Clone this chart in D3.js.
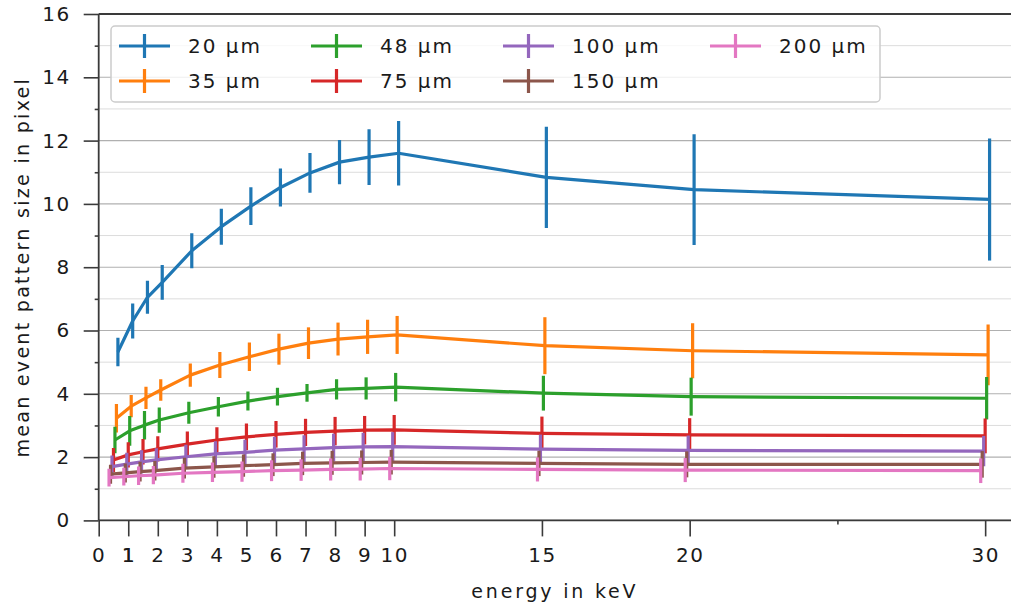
<!DOCTYPE html>
<html>
<head>
<meta charset="utf-8">
<script src="https://cdn.jsdelivr.net/npm/d3@7"></script>
<style>
  body { margin: 0; background: #fff; }
  text { font-family: "DejaVu Sans", sans-serif; fill: #1a1a1a; }
</style>
</head>
<body>
<svg id="chart" width="1011" height="607"></svg>
<script>
// Photon energies (keV) at which the event pattern size was measured
const energies = [0.5, 1, 1.5, 2, 3, 4, 5, 6, 7, 8, 9, 10, 15, 20, 30];

// Sensor thicknesses, one series each
const thicknesses = ["20 μm", "35 μm", "48 μm", "75 μm", "100 μm", "150 μm", "200 μm"];
const colors = ["#1f77b4", "#ff7f0e", "#2ca02c", "#d62728", "#9467bd", "#8c564b", "#e377c2"];

// Mean event pattern size (pixel) and its spread, per thickness
const size20  = [5.32, 6.30, 7.05, 7.52, 8.52, 9.28, 9.93, 10.52, 10.98, 11.32, 11.48, 11.60, 10.84, 10.45, 10.14];
const err20   = [0.45, 0.55, 0.52, 0.55, 0.55, 0.57, 0.60, 0.60, 0.63, 0.70, 0.88, 1.02, 1.60, 1.75, 1.93];
const size35  = [3.23, 3.61, 3.87, 4.12, 4.59, 4.91, 5.17, 5.41, 5.60, 5.73, 5.80, 5.86, 5.52, 5.36, 5.23];
const err35   = [0.45, 0.35, 0.35, 0.34, 0.37, 0.41, 0.45, 0.49, 0.50, 0.52, 0.54, 0.60, 0.90, 0.87, 0.96];
const size48  = [2.54, 2.83, 3.01, 3.17, 3.40, 3.59, 3.77, 3.91, 4.03, 4.14, 4.17, 4.21, 4.02, 3.91, 3.86];
const err48   = [0.42, 0.47, 0.45, 0.40, 0.35, 0.31, 0.30, 0.28, 0.28, 0.32, 0.35, 0.45, 0.55, 0.60, 0.67];
const size75  = [1.91, 2.07, 2.17, 2.26, 2.41, 2.54, 2.64, 2.72, 2.78, 2.82, 2.85, 2.86, 2.75, 2.70, 2.67];
const err75   = [0.38, 0.40, 0.40, 0.40, 0.40, 0.40, 0.42, 0.42, 0.43, 0.45, 0.45, 0.47, 0.53, 0.53, 0.55];
const size100 = [1.70, 1.78, 1.85, 1.91, 2.01, 2.10, 2.15, 2.22, 2.26, 2.30, 2.32, 2.33, 2.25, 2.21, 2.19];
const err100  = [0.35, 0.36, 0.37, 0.37, 0.38, 0.40, 0.40, 0.42, 0.43, 0.44, 0.45, 0.46, 0.46, 0.47, 0.48];
const size150 = [1.46, 1.50, 1.54, 1.57, 1.65, 1.69, 1.73, 1.76, 1.80, 1.82, 1.83, 1.84, 1.80, 1.77, 1.77];
const err150  = [0.30, 0.30, 0.31, 0.31, 0.33, 0.34, 0.35, 0.36, 0.37, 0.38, 0.38, 0.39, 0.40, 0.41, 0.42];
const size200 = [1.35, 1.38, 1.41, 1.43, 1.49, 1.52, 1.54, 1.57, 1.59, 1.61, 1.62, 1.64, 1.61, 1.59, 1.57];
const err200  = [0.28, 0.28, 0.29, 0.29, 0.30, 0.31, 0.32, 0.33, 0.34, 0.35, 0.36, 0.37, 0.38, 0.38, 0.39];

const sizes = [size20, size35, size48, size75, size100, size150, size200];
const errs  = [err20, err35, err48, err75, err100, err150, err200];

// Axis ticks
const xMajorTicks = [0, 1, 2, 3, 4, 5, 6, 7, 8, 9, 10, 15, 20, 30];
const xMinorTicks = [25];
const yMajorTicks = [0, 2, 4, 6, 8, 10, 12, 14, 16];
const yMinorTicks = [1, 3, 5, 7, 9, 11, 13, 15];

const xLabel = "energy in keV";
const yLabel = "mean event pattern size in pixel";

// ---- layout ----
const svg = d3.select("#chart");
const plotLeft = 98.7, plotRight = 1014.7, plotTop = 14, plotBottom = 520.4;
const x = d3.scaleLinear().domain([0, 31]).range([plotLeft, plotRight]);
const y = d3.scaleLinear().domain([0, 16]).range([plotBottom, plotTop]);
const dodge = 0.05; // small horizontal shift so error bars of the series don't overlap

const axisColor = "#3a3a3a";
const tickFont = "20px";

// clip for plotting area
svg.append("defs").append("clipPath").attr("id", "plotclip")
  .append("rect").attr("x", plotLeft).attr("y", plotTop)
  .attr("width", plotRight - plotLeft).attr("height", plotBottom - plotTop);

// horizontal grid
const grid = svg.append("g");
grid.selectAll("line.minor").data(yMinorTicks).join("line")
  .attr("class", "minor")
  .attr("x1", plotLeft).attr("x2", plotRight)
  .attr("y1", d => y(d)).attr("y2", d => y(d))
  .attr("stroke", "#dcdcdc").attr("stroke-width", 1);
grid.selectAll("line.major").data(yMajorTicks).join("line")
  .attr("class", "major")
  .attr("x1", plotLeft).attr("x2", plotRight)
  .attr("y1", d => y(d)).attr("y2", d => y(d))
  .attr("stroke", "#b0b0b0").attr("stroke-width", 1.1);

// series: line plus vertical error bars
const plot = svg.append("g").attr("clip-path", "url(#plotclip)");
const line = d3.line().x(d => x(d.e)).y(d => y(d.v));

thicknesses.forEach((name, i) => {
  const pts = energies.map((e, j) => ({ e: e + (3 - i) * dodge, v: sizes[i][j], s: errs[i][j] }));
  const g = plot.append("g");
  g.append("path").datum(pts)
    .attr("d", line)
    .attr("fill", "none")
    .attr("stroke", colors[i])
    .attr("stroke-width", 3.2)
    .attr("stroke-linejoin", "round");
  g.selectAll("line").data(pts).join("line")
    .attr("x1", d => x(d.e)).attr("x2", d => x(d.e))
    .attr("y1", d => y(d.v - d.s)).attr("y2", d => y(d.v + d.s))
    .attr("stroke", colors[i])
    .attr("stroke-width", 3.2);
});

// axes
const yAxis = svg.append("g").attr("transform", `translate(${plotLeft},0)`)
  .call(d3.axisLeft(y).tickValues(yMajorTicks).tickSize(15).tickPadding(13).tickFormat(d3.format("d")));
const yAxisMinor = svg.append("g").attr("transform", `translate(${plotLeft},0)`)
  .call(d3.axisLeft(y).tickValues(yMinorTicks).tickSize(4).tickFormat(""));
const xAxis = svg.append("g").attr("transform", `translate(0,${plotBottom})`)
  .call(d3.axisBottom(x).tickValues(xMajorTicks).tickSize(16).tickPadding(11).tickFormat(d3.format("d")));
const xAxisMinor = svg.append("g").attr("transform", `translate(0,${plotBottom})`)
  .call(d3.axisBottom(x).tickValues(xMinorTicks).tickSize(4).tickFormat(""));

[yAxis, yAxisMinor, xAxis, xAxisMinor].forEach(a => {
  a.select(".domain").remove();
  a.selectAll(".tick line").attr("stroke", axisColor).attr("stroke-width", 1.6);
  a.selectAll(".tick text").attr("fill", "#1a1a1a").style("font-size", tickFont)
    .style("letter-spacing", "1.5px");
});

// the "1" label is printed twice on top of itself
xAxis.selectAll(".tick").filter(d => d === 1).append("text")
  .attr("y", 27).attr("dy", "0.71em").attr("x", 0.4)
  .attr("text-anchor", "middle").attr("fill", "#1a1a1a")
  .style("font-size", tickFont).style("letter-spacing", "1.5px").text("1");

// spines
const spines = svg.append("g").attr("stroke", axisColor).attr("stroke-width", 1.8).attr("fill", "none");
spines.append("line").attr("x1", plotLeft).attr("x2", plotLeft).attr("y1", plotTop).attr("y2", plotBottom);
spines.append("line").attr("x1", plotLeft).attr("x2", plotRight).attr("y1", plotBottom).attr("y2", plotBottom);
spines.append("line").attr("x1", plotLeft).attr("x2", plotRight).attr("y1", plotTop).attr("y2", plotTop);
spines.append("line").attr("x1", plotRight).attr("x2", plotRight).attr("y1", plotTop).attr("y2", plotBottom);

// axis titles
svg.append("text")
  .attr("x", (plotLeft + 1011) / 2).attr("y", 598)
  .attr("text-anchor", "middle")
  .style("font-size", "19px").style("letter-spacing", "2.8px")
  .text(xLabel);
svg.append("text")
  .attr("transform", `translate(29,${(plotTop + plotBottom) / 2}) rotate(-90)`)
  .attr("text-anchor", "middle")
  .style("font-size", "19px").style("letter-spacing", "2.3px")
  .text(yLabel);

// legend
const legend = svg.append("g");
legend.append("rect")
  .attr("x", 111).attr("y", 26).attr("width", 769).attr("height", 76)
  .attr("rx", 4).attr("ry", 4)
  .attr("fill", "#fff").attr("fill-opacity", 0.8)
  .attr("stroke", "#cccccc").attr("stroke-width", 1.5);
const colX = [119, 311, 503, 710];
const rowY = [46, 81];
thicknesses.forEach((name, i) => {
  const col = Math.floor(i / 2), row = i % 2;
  const hx = colX[col], hy = rowY[row];
  const item = legend.append("g");
  item.append("line").attr("x1", hx).attr("x2", hx + 51).attr("y1", hy).attr("y2", hy)
    .attr("stroke", colors[i]).attr("stroke-width", 3.2);
  item.append("line").attr("x1", hx + 25.5).attr("x2", hx + 25.5).attr("y1", hy - 12).attr("y2", hy + 12)
    .attr("stroke", colors[i]).attr("stroke-width", 3.2);
  item.append("text").attr("x", hx + 69).attr("y", hy).attr("dy", "0.36em")
    .style("font-size", "20px").style("letter-spacing", "2px")
    .text(name);
});
</script>
</body>
</html>
